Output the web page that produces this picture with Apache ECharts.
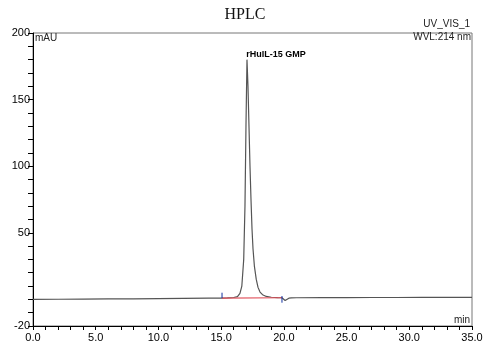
<!DOCTYPE html>
<html>
<head>
<meta charset="utf-8">
<script src="https://cdn.jsdelivr.net/npm/echarts@6/dist/echarts.min.js"></script>
<style>html,body{margin:0;padding:0;background:#fff;}#c{width:490px;height:351px;}</style>
</head>
<body>
<div id="c"></div>
<script>
// Chromatogram (time in min, signal in mAU)
const times = [0, 2, 4, 6, 8, 10, 12, 14, 15.0, 15.5, 16.0, 16.3, 16.5, 16.65, 16.8, 16.9, 16.98, 17.06, 17.14, 17.22, 17.3, 17.38, 17.46, 17.54, 17.65, 17.8, 17.94, 18.1, 18.3, 18.6, 19.0, 19.5, 19.85, 19.95, 20.1, 20.25, 20.4, 20.6, 21, 23, 25, 27, 29, 31, 33, 35];
const signal = [0.0, 0.1, 0.2, 0.3, 0.4, 0.5, 0.7, 0.9, 1.0, 1.1, 1.4, 2.0, 4.5, 10, 30, 70, 130, 180, 160, 130, 100, 75, 53, 38, 25, 15, 9, 5.5, 3.5, 2.2, 1.6, 1.3, 1.2, 0.6, -0.8, 0.2, 0.9, 1.1, 1.2, 1.3, 1.3, 1.4, 1.4, 1.5, 1.5, 1.5];
// Integration baseline (red) and peak delimiters (blue)
const baseTimes = [15.07, 19.85];
const baseValues = [1.0, 1.2];
const startMarkT = [15.07, 15.07];
const startMarkV = [1.0, 5.0];
const endMarkT = [19.85, 19.85];
const endMarkV = [2.5, -2.5];
const yLabels = [200, 150, 100, 50, -20];
const peakName = 'rHuIL-15 GMP';
const peakT = 17.06, peakV = 180;

const pairs = (a, b) => a.map((v, i) => [v, b[i]]);

const chart = echarts.init(document.getElementById('c'), null, {renderer: 'canvas'});
chart.setOption({
  animation: false,
  backgroundColor: '#fff',
  title: {
    text: 'HPLC', left: 'center', top: 2,
    textStyle: {fontFamily: 'Liberation Serif', fontWeight: 'normal', fontSize: 16, color: '#111'}
  },
  grid: {left: 33, right: 18, top: 33, bottom: 25, show: true, borderColor: '#777', borderWidth: 1},
  xAxis: {
    type: 'value', min: 0, max: 35, interval: 1,
    axisLine: {onZero: false, lineStyle: {color: '#000', width: 1}},
    axisTick: {show: true, length: 4, lineStyle: {color: '#000'}},
    splitLine: {show: false},
    axisLabel: {
      color: '#000', fontFamily: 'Liberation Sans', fontSize: 11, margin: 6,
      formatter: v => (Math.round(v) % 5 === 0 ? v.toFixed(1) : '')
    }
  },
  yAxis: {
    type: 'value', min: -20, max: 200, interval: 10,
    axisLine: {lineStyle: {color: '#000', width: 1}},
    axisTick: {show: true, length: 5, lineStyle: {color: '#000'}},
    splitLine: {show: false},
    axisLabel: {
      color: '#000', fontFamily: 'Liberation Sans', fontSize: 11, margin: 3,
      formatter: v => (yLabels.includes(v) ? String(v) : '')
    }
  },
  graphic: [
    {type: 'text', right: 20, top: 19, style: {text: 'UV_VIS_1', font: '10px "Liberation Sans"', fill: '#222'}},
    {type: 'text', right: 19, top: 32, style: {text: 'WVL:214 nm', font: '10px "Liberation Sans"', fill: '#222'}},
    {type: 'text', left: 35, top: 33, style: {text: 'mAU', font: '10px "Liberation Sans"', fill: '#222'}},
    {type: 'text', right: 20, top: 315, style: {text: 'min', font: '10px "Liberation Sans"', fill: '#222'}}
  ],
  series: [
    {
      type: 'line', data: pairs(times, signal), showSymbol: false, symbol: 'none',
      lineStyle: {color: '#555', width: 1.2}, z: 3,
      markPoint: {
        symbol: 'circle', symbolSize: 0,
        data: [{coord: [peakT, peakV], value: peakName}],
        label: {show: true, position: 'top', formatter: peakName, offset: [29, 4], color: '#000',
          fontFamily: 'Liberation Sans', fontSize: 9, fontWeight: 'bold'}
      }
    },
    {type: 'line', data: pairs(baseTimes, baseValues), symbol: 'none', lineStyle: {color: '#e0505a', width: 1.2}, z: 4},
    {type: 'line', data: pairs(startMarkT, startMarkV), symbol: 'none', lineStyle: {color: '#1030a0', width: 1}, z: 5},
    {type: 'line', data: pairs(endMarkT, endMarkV), symbol: 'none', lineStyle: {color: '#1030a0', width: 1}, z: 5}
  ]
});
</script>
</body>
</html>
